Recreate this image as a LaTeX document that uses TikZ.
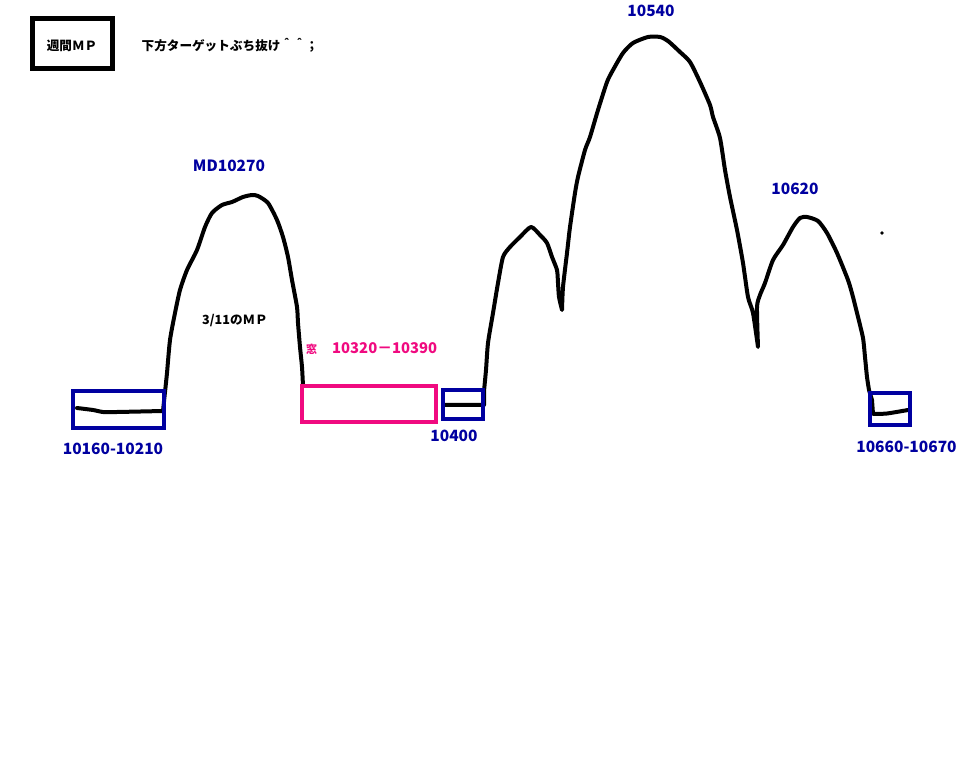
\documentclass[tikz,border=0pt]{standalone}
\usepackage{fontspec}
\setmainfont{Noto Sans CJK JP}
\definecolor{navy}{RGB}{0,0,160}
\definecolor{pinkbox}{RGB}{240,10,128}
\tikzset{
  curve/.style={line width=4pt, black, line join=round, line cap=round},
  bluebox/.style={line width=4pt, draw=navy},
  pinkrect/.style={line width=4pt, draw=pinkbox},
  titlebox/.style={line width=5.5pt, draw=black},
  bluelab/.style={text=navy, font=\bfseries\fontsize{15.5}{18}\selectfont, anchor=base, inner sep=0pt},
  blacklab/.style={text=black, font=\bfseries\fontsize{12.6}{15}\selectfont, inner sep=0pt},
}
\begin{document}
\begin{tikzpicture}[x=1pt,y=-1pt]
\useasboundingbox[fill=white] (0,0) rectangle (978,783);

% title box
\draw[titlebox] (32.5,18.5) rectangle (112.5,68.5);
\node[blacklab] (title) at (72,46) {週間ＭＰ};
\node[blacklab] (note) at (230,45.5) {下方ターゲットぶち抜け＾＾；};

% curve A
\draw[curve] plot[smooth, tension=0.4] coordinates {(77,408) (93,410) (103,412) (117,412) (163,411)}
  -- (165,392)
  -- plot[smooth, tension=0.4] coordinates {(165,392) (167,373) (170,340) (175,313) (180,290) (187,270) (197,250) (205,227) (212,213) (222,205) (232,202) (243,197) (252,195) (258,196) (268,203) (277,220) (283,237) (288,257) (292,280) (297,307) (298,323) (300,347) (302,367) (303,386)};

% curve B
\draw[curve] (445,405) -- (481,405) -- (484,405) -- (484,391)
  -- plot[smooth, tension=0.4] coordinates {(484,391) (486,370) (488,343) (493,313) (498,283) (503,257) (510,247) (520,237) (531,227) (540,235) (547,243) (552,257) (557,270) (558,283) (559,297) (562,310)}
  -- plot[smooth, tension=0.4] coordinates {(562,310) (563,287) (567,253) (570,227) (575,193) (578,177) (585,150) (590,137) (598,110) (607,82) (613,70) (623,53) (633,43) (648,37) (660,37) (668,41) (680,52) (690,62) (700,82) (710,105) (713,117) (720,138) (725,170) (730,197) (737,230) (743,263) (748,297) (753,313) (758,347)}
  -- plot[smooth, tension=0.4] coordinates {(758,347) (757,307) (760,295) (765,283) (773,260) (783,245) (793,227) (800,218) (807,217) (818,221) (827,233) (837,253) (848,280) (853,297) (858,317) (863,338) (865,357) (867,377) (869,390)}
  -- (872,400) -- (873,414)
  -- plot[smooth, tension=0.4] coordinates {(873,414) (887,413.5) (908,410)};

% dot
\fill (882,233) circle (1.8);

% boxes
\draw[bluebox] (73,391) rectangle (164,428);
\draw[pinkrect] (302,386) rectangle (436,422);
\draw[bluebox] (443,390) rectangle (483,419);
\draw[bluebox] (870,393) rectangle (910,425);

% labels
\node[bluelab] (md) at (229,172) {MD10270};
\node[bluelab] (l1) at (113,455) {10160-10210};
\node[bluelab] (l2) at (454,442) {10400};
\node[bluelab] (l3) at (651,17) {10540};
\node[bluelab] (l4) at (795,195) {10620};
\node[bluelab] (l5) at (906.5,453) {10660-10670};
\node[blacklab, anchor=base] (mp) at (235,325) {3/11のＭＰ};
\node[anchor=base west, inner sep=0pt, text=pinkbox, font=\bfseries] (win) at (306,353.5)
  {{\fontsize{11}{13}\selectfont 窓}\hspace{15pt}{\fontsize{14.8}{18}\selectfont 10320－10390}};
\end{tikzpicture}
\end{document}
